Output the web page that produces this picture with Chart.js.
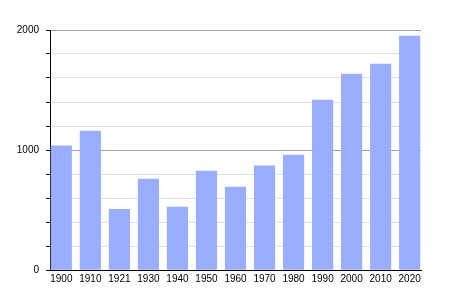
<!DOCTYPE html>
<html><head><meta charset="utf-8">
<script src="https://cdn.jsdelivr.net/npm/chart.js@4"></script>
<style>html,body{margin:0;padding:0;background:#fff}#wrap{width:450px;height:300px}</style>
</head><body><div id="wrap"><canvas id="c"></canvas></div>
<script>
const categories = ["1900","1910","1921","1930","1940","1950","1960","1970","1980","1990","2000","2010","2020"];
const population = [1035,1158,505,758,525,825,692,869,958,1417,1633,1717,1950];
const yTickLabels = [0,1000,2000];

const points = population.map((v,i)=>({x:i,y:v}));
new Chart(document.getElementById('c'),{
  type:'bar',
  data:{datasets:[{data:points,backgroundColor:'#9aaeff',borderWidth:0,barThickness:20.5}]},
  options:{
    responsive:true,maintainAspectRatio:false,animation:false,
    layout:{padding:{left:0,right:29,top:30,bottom:0}},
    plugins:{legend:{display:false},tooltip:{enabled:false}},
    scales:{
      x:{type:'linear',offset:false,min:-0.39,max:categories.length-1+0.39,
        afterBuildTicks:s=>{s.ticks=categories.map((c,i)=>({value:i}));},
        afterFit:s=>{s.height=30;s.paddingLeft=0;s.paddingRight=0;},
        ticks:{callback:v=>categories[v]??'',autoSkip:false,maxRotation:0,color:'#000',font:{family:'Liberation Sans',size:10},padding:3},
        grid:{display:false,drawTicks:false,offset:false},
        border:{color:'#000',width:1}
      },
      y:{min:0,max:2000,
        afterBuildTicks:s=>{const t=[];for(let v=0;v<=2000;v+=200)t.push({value:v});s.ticks=t;},
        afterFit:s=>{s.width=50;s.paddingTop=0;s.paddingBottom=0;},
        ticks:{callback:v=>yTickLabels.includes(v)?String(v):'',autoSkip:false,color:'#000',font:{family:'Liberation Sans',size:10},padding:7},
        grid:{color:c=>(c.tick&&c.tick.value%1000===0&&c.tick.value!==0)?'#a0a0a0':'#e0e0e0',tickColor:'#000',tickLength:4,lineWidth:1},
        border:{color:'#000',width:1}
      }
    }
  }
});
</script></body></html>
